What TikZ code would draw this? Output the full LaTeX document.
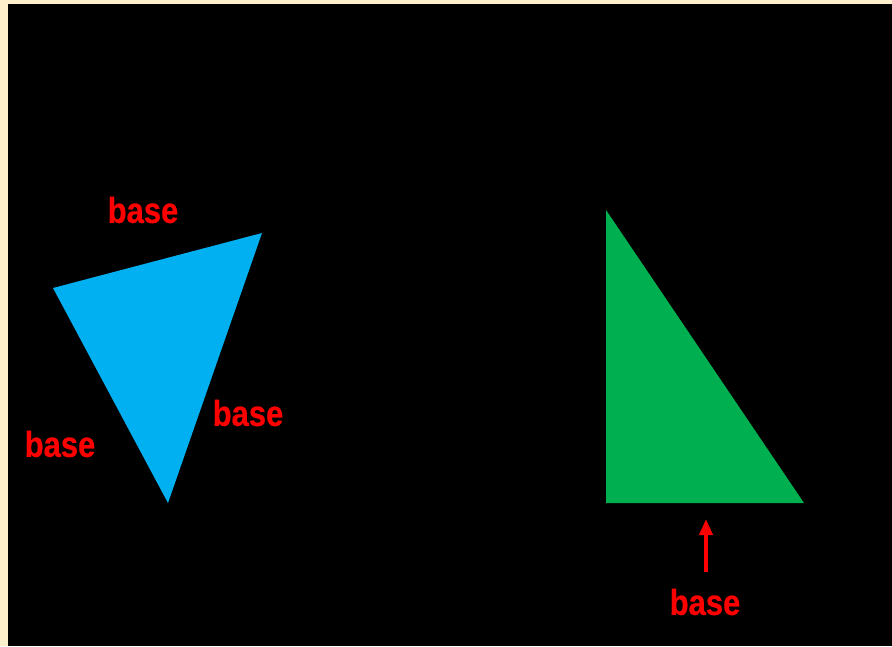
\documentclass[tikz,border=0pt]{standalone}
\usepackage{fontspec}
\newfontfamily\labelfont[FakeStretch=0.86,FakeBold=0.6]{Liberation Sans Bold}
\usetikzlibrary{arrows.meta}
\definecolor{cream}{HTML}{FFF0CC}
\definecolor{tblue}{HTML}{00B0F0}
\definecolor{tgreen}{HTML}{00B050}
\tikzset{
  lbl/.style={text=red, font=\labelfont\fontsize{36}{36}\selectfont, inner sep=0pt, anchor=center},
  redarrow/.style={draw=red, line width=3.8pt, -{Triangle[length=16pt,width=13pt]}}
}
\begin{document}
\begin{tikzpicture}[x=1pt,y=-1pt]
\fill[cream] (0,0) rectangle (892,646);
\fill[black] (8,4) rectangle (892,646);
\useasboundingbox (0,0) rectangle (892,646);
% blue triangle
\coordinate (b1) at (53,288);
\coordinate (b2) at (262,233);
\coordinate (b3) at (168,503);
\fill[tblue] (b1) -- (b2) -- (b3) -- cycle;
% green triangle
\coordinate (g1) at (606,210);
\coordinate (g2) at (606,503);
\coordinate (g3) at (804,503);
\fill[tgreen] (g1) -- (g2) -- (g3) -- cycle;
% labels
\node[lbl] (l1) at (143,210) {base};
\node[lbl] (l2) at (60,444) {base};
\node[lbl] (l3) at (248,413) {base};
\node[lbl] (l4) at (705,602) {base};
% arrow
\coordinate (as) at (706,572);
\coordinate (at) at (706,519);
\draw[redarrow] (as) -- (at);
\end{tikzpicture}
\end{document}
